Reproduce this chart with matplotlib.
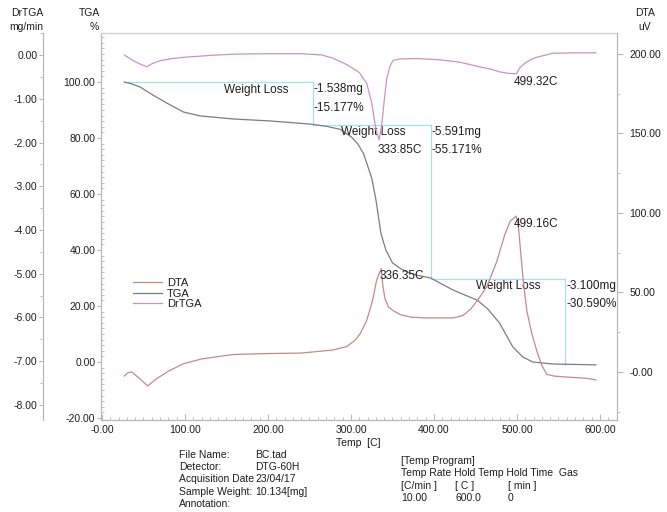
import numpy as np
import matplotlib
matplotlib.use('Agg')
import matplotlib.pyplot as plt
from matplotlib.ticker import FixedLocator, MultipleLocator

plt.rcParams['font.family'] = ['Liberation Sans', 'DejaVu Sans']

# ---------------- data ----------------
tga_T = [27, 36, 46, 61, 78, 98, 118, 158, 202, 250, 270, 287, 300, 308, 315, 325, 330,
         336, 342, 350, 360, 368, 380, 396, 423, 452, 465, 479, 495, 507, 519, 543, 595]
tga_W = [100, 99.3, 98.2, 95.4, 92.5, 89.3, 87.9, 86.8, 86.1, 85.0, 84.2, 83.1, 80.5,
         78.0, 74.5, 65.7, 58.0, 46.1, 40.0, 35.4, 33.3, 32.1, 31.0, 30.0, 25.7, 22.1,
         18.9, 13.9, 5.4, 1.8, 0.0, -0.7, -1.0]

dr_T = [27, 35, 45, 54, 60, 70, 85, 100, 130, 160, 200, 240, 265, 278, 295, 310, 319,
        325, 330, 333.85, 337, 340, 343, 347, 351, 359, 380, 407, 430, 455, 470, 480, 490,
        499.32, 503, 510, 517, 524, 535, 543, 570, 595]
dr_V = [0.0, -0.1, -0.2, -0.27, -0.2, -0.13, -0.08, -0.05, -0.01, 0.02, 0.03, 0.03, 0.0,
        -0.07, -0.22, -0.4, -0.65, -1.1, -1.7, -1.94, -1.6, -1.05, -0.55, -0.25, -0.12,
        -0.09, -0.08, -0.11, -0.16, -0.27, -0.33, -0.39, -0.42, -0.43, -0.3, -0.18, -0.1,
        -0.05, 0.0, 0.04, 0.05, 0.05]

dta_T = [27, 31, 36, 45, 55, 65, 80, 98, 120, 158, 200, 240, 278, 295, 305, 311, 319,
         326, 331, 336.35, 338.5, 341, 345, 351, 360, 372, 390, 423, 435, 445, 455, 464,
         476, 485, 492, 499.16, 502, 505, 508, 512, 518, 524, 530, 536, 545, 560, 584, 595]
dta_V = [-2.5, -0.5, 0.0, -4, -8.8, -4.5, 0.5, 5.2, 8.2, 11.0, 11.6, 11.9, 13.8, 16, 20,
         24, 32.5, 45, 58, 65, 54, 46, 41, 38.5, 36, 34.5, 34, 34, 35.5, 40, 47, 54, 70,
         86, 95, 98, 90, 72, 55, 38, 24, 13, 4, -1.5, -2.6, -3.2, -4, -5]

wl_T = [27, 254, 396, 558]
wl_level = [100.0, 84.823, 29.652, -0.938]
wl_mg = ['-1.538mg', '-5.591mg', '-3.100mg']
wl_pct = ['-15.177%', '-55.171%', '-30.590%']

dr_peaks = [333.85, 499.32]
dta_peaks = [336.35, 499.16]

x_ticks = [0, 100, 200, 300, 400, 500, 600]
x_labels = ['-0.00', '100.00', '200.00', '300.00', '400.00', '500.00', '600.00']
tga_ticks = [-20, 0, 20, 40, 60, 80, 100]
tga_labels = ['-20.00', '0.00', '20.00', '40.00', '60.00', '80.00', '100.00']
dr_ticks = [-8, -7, -6, -5, -4, -3, -2, -1, 0]
dr_labels = ['-8.00', '-7.00', '-6.00', '-5.00', '-4.00', '-3.00', '-2.00', '-1.00', '0.00']
dta_ticks = [0, 50, 100, 150, 200]
dta_labels = ['-0.00', '50.00', '100.00', '150.00', '200.00']

# ---------------- figure ----------------
W, H = 667, 512
fig = plt.figure(figsize=(W / 100, H / 100), dpi=100)
L, R, T, B = 101, 617, 33, 420
ax = fig.add_axes([L / W, 1 - B / H, (R - L) / W, (B - T) / H])
ax_dta = ax.twinx()
ax_dr = ax.twinx()

SP = '#b8b8b8'
TXT = '#1e1e1e'
c_dta = '#c48a8e'
c_tga = '#7c7c84'
c_dr = '#c994c4'
c_wl = '#a6e0e8'

ax.set_xlim(-1.2, 620.5)
ax.set_ylim(-20.7, 117.5)
ax_dr.set_ylim(-8.343, 0.503)
ax_dta.set_ylim(-30.2, 213.2)

# curves
l_dta, = ax_dta.plot(dta_T, dta_V, color=c_dta, lw=0.9)
l_tga, = ax.plot(tga_T, tga_W, color=c_tga, lw=0.9, zorder=3)
l_dr, = ax_dr.plot(dr_T, dr_V, color=c_dr, lw=0.9)

# weight-loss step lines
for i in range(3):
    ax.plot([wl_T[i], wl_T[i + 1]], [wl_level[i], wl_level[i]], color=c_wl, lw=0.9, zorder=2)
    ax.plot([wl_T[i + 1], wl_T[i + 1]], [wl_level[i], wl_level[i + 1]], color=c_wl, lw=0.9, zorder=2)
    ax.annotate('Weight Loss', (wl_T[i + 1], wl_level[i]), xytext=(-57, -7.5),
                textcoords='offset pixels', ha='center', va='center', fontsize=8.5, color=TXT)
    ax.annotate(wl_mg[i], (wl_T[i + 1], wl_level[i]), xytext=(1, -7),
                textcoords='offset pixels', ha='left', va='center', fontsize=8.5, color=TXT)
    ax.annotate(wl_pct[i], (wl_T[i + 1], wl_level[i]), xytext=(1, -25.5),
                textcoords='offset pixels', ha='left', va='center', fontsize=8.5, color=TXT)

# peak labels
for p, off in zip(dr_peaks, [(-2, -10), (-3, -8)]):
    v = np.interp(p, dr_T, dr_V)
    ax_dr.annotate('%.2fC' % p, (p, v), xytext=off, textcoords='offset pixels',
                   ha='left', va='center', fontsize=8.5, color=TXT)
for p, off in zip(dta_peaks, [(-2, -7), (-3, -8)]):
    v = np.interp(p, dta_T, dta_V)
    ax_dta.annotate('%.2fC' % p, (p, v), xytext=off, textcoords='offset pixels',
                    ha='left', va='center', fontsize=8.5, color=TXT)

# ---------------- axes styling ----------------
for a in (ax, ax_dta, ax_dr):
    for s in a.spines.values():
        s.set_color(SP)
        s.set_linewidth(0.9)

ax.spines['right'].set_visible(False)
ax.spines['top'].set_color('#d0d0d0')
ax_dta.spines['left'].set_visible(False)
ax_dta.spines['top'].set_visible(False)
ax_dta.spines['bottom'].set_visible(False)
ax_dr.spines['right'].set_visible(False)
ax_dr.spines['top'].set_visible(False)
ax_dr.spines['bottom'].set_visible(False)
ax_dr.spines['left'].set_position(('axes', (43 - L) / (R - L)))
ax_dr.yaxis.set_ticks_position('left')
ax_dr.yaxis.set_label_position('left')

# x axis
ax.xaxis.set_major_locator(FixedLocator(x_ticks))
ax.set_xticklabels(x_labels)
ax.xaxis.set_minor_locator(MultipleLocator(10))
ax.tick_params(axis='x', which='major', direction='in', length=4, pad=3.5,
               color=SP, labelsize=7.5, labelcolor=TXT)
ax.tick_params(axis='x', which='minor', direction='in', length=2, color=SP)

# TGA axis
ax.yaxis.set_major_locator(FixedLocator(tga_ticks))
ax.set_yticklabels(tga_labels)
ax.yaxis.set_minor_locator(MultipleLocator(2))
ax.tick_params(axis='y', which='major', direction='out', length=3, pad=1,
               color=SP, labelsize=7.5, labelcolor=TXT)
ax.tick_params(axis='y', which='minor', direction='in', length=2, color=SP)

# DrTGA axis
ax_dr.yaxis.set_major_locator(FixedLocator(dr_ticks))
ax_dr.set_yticklabels(dr_labels)
ax_dr.yaxis.set_minor_locator(MultipleLocator(0.5))
ax_dr.tick_params(axis='y', which='major', direction='out', length=3, pad=1,
                  color=SP, labelsize=7.5, labelcolor=TXT)
ax_dr.tick_params(axis='y', which='minor', direction='out', length=2, color=SP)

# DTA axis
ax_dta.yaxis.set_major_locator(FixedLocator(dta_ticks))
ax_dta.set_yticklabels(dta_labels)
ax_dta.yaxis.set_minor_locator(MultipleLocator(25))
ax_dta.tick_params(axis='y', which='major', direction='out', length=4, pad=5,
                   color=SP, labelsize=7.5, labelcolor=TXT)
ax_dta.tick_params(axis='y', which='minor', direction='out', length=2, color=SP)

# legend
ax_dr.legend([l_dta, l_tga, l_dr], ['DTA', 'TGA', 'DrTGA'], loc='upper left',
             bbox_to_anchor=(133 / W, 1 - 278 / H), bbox_transform=fig.transFigure,
             frameon=False, fontsize=8, handlelength=2.6, handletextpad=0.45,
             labelspacing=0.05, borderpad=0, borderaxespad=0, labelcolor=TXT)

# ---------------- texts ----------------
def ftext(x, y, s, ha='left', size=7.5):
    fig.text(x / W, 1 - y / H, s, ha=ha, va='center', fontsize=size, color=TXT)

ftext(43, 13, 'DrTGA', ha='right')
ftext(43, 27, 'mg/min', ha='right')
ftext(100, 13, 'TGA', ha='right')
ftext(99, 27, '%', ha='right')
ftext(645, 13, 'DTA', ha='center')
ftext(645, 27, 'uV', ha='center')
ftext(358, 443, 'Temp  [C]', ha='center', size=7.5)

left_block = [('File Name:', 'BC.tad'), ('Detector:', 'DTG-60H'),
              ('Acquisition Date', '23/04/17'), ('Sample Weight:', '10.134[mg]'),
              ('Annotation:', '')]
for i, (k, v) in enumerate(left_block):
    y = 455 + 12.2 * i
    ftext(179, y, k)
    ftext(255, y, v)

ftext(401, 461, '[Temp Program]')
ftext(401, 473, 'Temp Rate Hold Temp Hold Time  Gas')
ftext(401, 486, '[C/min ]')
ftext(455, 486, '[ C ]')
ftext(508, 486, '[ min ]')
ftext(401, 498, '10.00')
ftext(455, 498, '600.0')
ftext(508, 498, '0')

fig.savefig('out.png', dpi=100)
